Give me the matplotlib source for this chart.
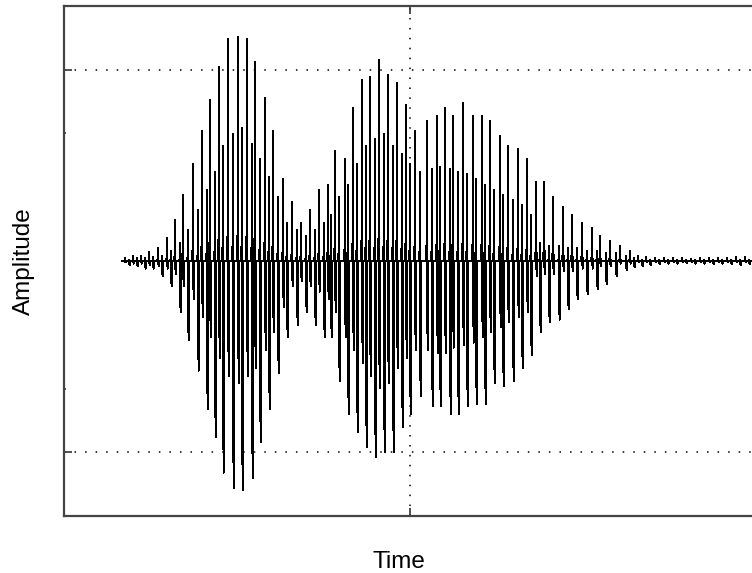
import matplotlib
matplotlib.use('Agg')
import matplotlib.pyplot as plt

# Waveform: one entry per vertical stroke
# col_t: time (ms), col_hi: highest amplitude of the stroke, col_lo: lowest amplitude
col_t = [61, 65, 69, 73, 77, 81, 85, 89, 94, 98,
         103, 107, 111, 116, 119, 124, 129, 134, 138, 143, 146, 151, 155, 159,
         164, 169, 174, 178, 183, 188, 191, 196, 201, 205, 209, 214, 219, 223,
         228, 233, 237, 242, 246, 251, 255, 260,
         264, 267, 271, 275, 281, 284, 289, 293, 298, 302, 306, 311, 315, 320,
         324, 329, 333, 338, 342, 346, 351, 356, 363, 368, 373, 376, 381, 386,
         389, 394, 399, 403, 409, 412, 418, 421, 426, 430, 436, 439, 444, 449,
         454, 458, 463, 467, 472, 476, 480, 485, 489, 495, 499, 504, 508, 513,
         518, 523, 528, 533, 536, 542, 546, 552, 556, 562, 566,
         570, 574, 578, 582, 586, 591, 595, 600, 604, 609, 613, 618, 622, 627,
         631, 636, 640, 645, 649, 654, 658, 663, 667, 672, 676, 681, 685, 690]
col_hi = [0.01, 0.005, 0.02, 0.01, 0.02, 0.01, 0.035, 0.015, 0.05, 0.02,
          0.09, 0.04, 0.16, 0.07, 0.26, 0.12, 0.38, 0.20, 0.51, 0.28, 0.63, 0.35, 0.76, 0.45,
          0.87, 0.50, 0.88, 0.52, 0.87, 0.46, 0.78, 0.40, 0.64, 0.33, 0.51, 0.25, 0.32, 0.15,
          0.23, 0.12, 0.15, 0.10, 0.20, 0.12, 0.28, 0.15,
          0.30, 0.18, 0.43, 0.25, 0.40, 0.30, 0.60, 0.38, 0.71, 0.45, 0.72, 0.48, 0.79, 0.50,
          0.73, 0.45, 0.70, 0.42, 0.61, 0.38, 0.51, 0.35, 0.55, 0.36, 0.57, 0.37, 0.60, 0.36,
          0.57, 0.35, 0.62, 0.34, 0.57, 0.32, 0.57, 0.30, 0.55, 0.28, 0.49, 0.26, 0.45, 0.24,
          0.44, 0.22, 0.40, 0.18, 0.31, 0.07, 0.31, 0.06, 0.25, 0.06, 0.21, 0.05, 0.18, 0.05,
          0.15, 0.04, 0.13, 0.04, 0.10, 0.03, 0.08, 0.03, 0.06, 0.02, 0.04,
          0.01, 0.02, 0.005, 0.015, 0.005, 0.012, 0.004, 0.01, 0.004, 0.01, 0.003, 0.01, 0.003, 0.008,
          0.003, 0.01, 0.004, 0.012, 0.004, 0.01, 0.003, 0.012, 0.004, 0.015, 0.005, 0.015, 0.004, 0.01]
col_lo = [-0.005, -0.015, -0.01, -0.02, -0.01, -0.03, -0.015, -0.03, -0.02, -0.06,
          -0.03, -0.10, -0.05, -0.20, -0.10, -0.31, -0.15, -0.43, -0.22, -0.58, -0.30, -0.69, -0.38, -0.83,
          -0.45, -0.89, -0.48, -0.90, -0.45, -0.85, -0.42, -0.71, -0.35, -0.58, -0.28, -0.44, -0.18, -0.30,
          -0.10, -0.25, -0.08, -0.20, -0.10, -0.25, -0.12, -0.30,
          -0.15, -0.30, -0.20, -0.47, -0.30, -0.60, -0.35, -0.67, -0.40, -0.73, -0.45, -0.77, -0.50, -0.75,
          -0.48, -0.75, -0.42, -0.65, -0.38, -0.60, -0.35, -0.53, -0.35, -0.57, -0.36, -0.57, -0.36, -0.60,
          -0.34, -0.60, -0.33, -0.57, -0.32, -0.56, -0.30, -0.56, -0.28, -0.48, -0.26, -0.49, -0.24, -0.47,
          -0.22, -0.42, -0.20, -0.37, -0.06, -0.28, -0.05, -0.24, -0.05, -0.23, -0.04, -0.19, -0.04, -0.15,
          -0.03, -0.13, -0.03, -0.11, -0.02, -0.09, -0.02, -0.06, -0.01, -0.035, -0.01,
          -0.025, -0.005, -0.02, -0.005, -0.015, -0.004, -0.012, -0.004, -0.01, -0.003, -0.01, -0.003, -0.008, -0.003,
          -0.01, -0.004, -0.01, -0.004, -0.012, -0.003, -0.01, -0.004, -0.012, -0.005, -0.015, -0.004, -0.012, -0.003]

x_grid = [346]
y_grid = [-1.0, -0.75, 0.75, 1.0]
y_major = [-1.0, -0.75, 0.75, 1.0]
y_minor = [-0.5, 0.5]

fig = plt.figure(figsize=(7.52, 5.73), dpi=100)
ax = fig.add_axes([64/752, 57/573, 692/752, 510/573])

xs = [col_t[0] - 3]
ys = [0.0]
for t, hi, lo in zip(col_t, col_hi, col_lo):
    xs += [t - 0.5, t, t + 0.6, t + 1.1]
    ys += [0.0, hi, lo, 0.0]
ax.plot(xs, ys, color='black', lw=0.8, antialiased=False, zorder=3)

for g in y_grid:
    ax.axhline(g, color='black', lw=1.1, ls=(0, (1, 5.9)), zorder=1)
for g in x_grid:
    ax.axvline(g, color='black', lw=1.1, ls=(0, (1, 5.5)), zorder=1)

ax.set_xlim(0, 692)
ax.set_ylim(-1, 1)
ax.set_yticks(y_major)
ax.set_yticks(y_minor, minor=True)
ax.set_xticks(x_grid)
ax.tick_params(which='major', direction='in', length=6, width=1.2, color='#333333',
               labelleft=False, labelbottom=False, top=True, right=False)
ax.tick_params(which='minor', direction='in', length=1.5, width=1.2, color='#333333',
               labelleft=False, right=False)
for s in ['left', 'top', 'bottom']:
    ax.spines[s].set_color('#444444')
    ax.spines[s].set_linewidth(1.6)
ax.spines['right'].set_visible(False)

fig.text(399/752, 1 - 562/573, 'Time', ha='center', va='center',
         fontsize=17.5, family='Liberation Sans')
fig.text(24/752, 1 - 261/573, 'Amplitude', ha='center', va='center',
         rotation=90, fontsize=17.5, family='Liberation Sans')

fig.savefig('out.png', dpi=100)
